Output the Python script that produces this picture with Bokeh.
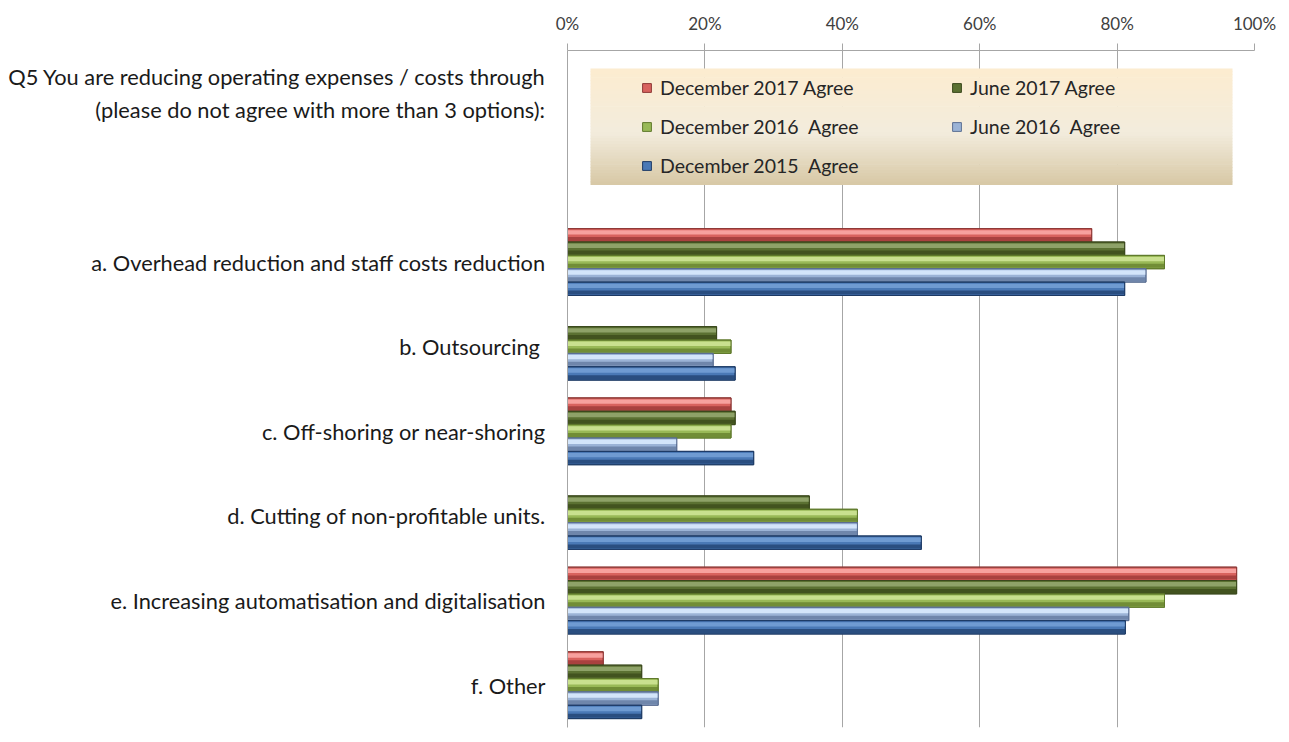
from bokeh.plotting import figure
from bokeh.models import (FactorRange, Range1d, Legend, LegendItem, BoxAnnotation,
                          FixedTicker, ColumnDataSource)
from bokeh.transform import dodge
from bokeh.embed import file_html
from bokeh.resources import INLINE

question = "Q5 You are reducing operating expenses / costs through\n(please do not agree with more than 3 options):"
categories = [
    "a. Overhead reduction and staff costs reduction",
    "b. Outsourcing ",
    "c. Off-shoring or near-shoring",
    "d. Cutting of non-profitable units.",
    "e. Increasing automatisation and digitalisation",
    "f. Other",
]
series_names = ["December 2017 Agree", "June 2017 Agree", "December 2016  Agree",
                "June 2016  Agree", "December 2015  Agree"]
dec_2017 = [76.3, None, 23.8, None, 97.4, 5.2]
jun_2017 = [81.1, 21.7, 24.4, 35.2, 97.4, 10.8]
dec_2016 = [86.9, 23.8, 23.8, 42.2, 86.9, 13.2]
jun_2016 = [84.2, 21.2, 15.9, 42.2, 81.7, 13.2]
dec_2015 = [81.1, 24.4, 27.1, 51.5, 81.2, 10.8]
series_values = [dec_2017, jun_2017, dec_2016, jun_2016, dec_2015]
x_ticks = [0, 20, 40, 60, 80, 100]
x_tick_labels = ["0%", "20%", "40%", "60%", "80%", "100%"]

# styles: base, highlight, shadow, outline
styles = [
    ("#d8625e", "#f7a19e", "#a9413f", "#8e3836"),
    ("#5b7132", "#8ea268", "#42531f", "#3a481c"),
    ("#99b957", "#c9e08f", "#718d36", "#5f792b"),
    ("#9bb3d6", "#d3e5fa", "#6f86ab", "#5b6f93"),
    ("#4a79b6", "#6f9bd2", "#2a4e80", "#1e3b66"),
]

FONT = "Lato"
y_factors = list(reversed(categories)) + [" ", question]

p = figure(width=1281, height=734, output_backend="svg", toolbar_location=None,
           x_range=Range1d(0, 100), y_range=FactorRange(*y_factors),
           x_axis_location="above",
           min_border_left=567, min_border_right=27, min_border_top=50, min_border_bottom=7)
p.y_range.range_padding = 0
p.y_range.factor_padding = 0
p.outline_line_color = None
p.background_fill_color = "white"
p.border_fill_color = "white"

# legend background gradient (decoration)
top_c = (253, 236, 208)
mid_c = (243, 237, 221)
bot_c = (216, 200, 166)
L, R, T, B = 590, 1232, 68, 184
n = 40
for k in range(n):
    f = (k + 0.5) / n
    if f < 0.55:
        g = f / 0.55
        c = tuple(int(top_c[j] + (mid_c[j] - top_c[j]) * g) for j in range(3))
    else:
        g = (f - 0.55) / 0.45
        c = tuple(int(mid_c[j] + (bot_c[j] - mid_c[j]) * g) for j in range(3))
    y0 = T + (B - T) * k / n
    y1 = T + (B - T) * (k + 1) / n + 0.6
    p.add_layout(BoxAnnotation(left=L, right=R, top=y0, bottom=y1,
                               left_units="canvas", right_units="canvas",
                               top_units="canvas", bottom_units="canvas",
                               fill_color="#%02x%02x%02x" % c, fill_alpha=1.0,
                               line_color=None, level="underlay"))

bh = 0.158
items = []
for i, (name, vals) in enumerate(zip(series_names, series_values)):
    base, hi, sh, ol = styles[i]
    off = (2 - i) * bh
    src = ColumnDataSource(dict(cat=categories,
                                val=[float("nan") if v is None else v for v in vals]))
    r = p.hbar(y=dodge("cat", off, range=p.y_range), right="val", left=0, height=bh,
               source=src, fill_color=base, line_color=ol, line_width=1)
    p.hbar(y=dodge("cat", off + bh * 0.22, range=p.y_range), right="val", left=0,
           height=bh * 0.32, source=src, fill_color=hi, line_color=None)
    p.hbar(y=dodge("cat", off - bh * 0.28, range=p.y_range), right="val", left=0,
           height=bh * 0.3, source=src, fill_color=sh, line_color=None)
    p.hbar(y=dodge("cat", off, range=p.y_range), right="val", left=0, height=bh,
           source=src, fill_color=None, line_color=ol, line_width=1)
    items.append(LegendItem(label=name, renderers=[r]))

legend = Legend(items=items, orientation="horizontal", ncols=2,
                location=(74, 550), padding=0, margin=0, spacing=16,
                glyph_width=11, glyph_height=11, label_standoff=8,
                label_width=275, label_height=23,
                label_text_font=FONT, label_text_font_size="19.5px",
                label_text_color="#262626",
                background_fill_alpha=0, border_line_color=None)
p.add_layout(legend)

p.xaxis.ticker = FixedTicker(ticks=x_ticks)
p.xaxis.major_label_overrides = {t: l for t, l in zip(x_ticks, x_tick_labels)}
p.xaxis.major_label_text_font = FONT
p.xaxis.major_label_text_font_size = "17px"
p.xaxis.major_label_text_color = "#404040"
p.xaxis.major_label_standoff = 10
p.xaxis.major_tick_out = 7
p.xaxis.major_tick_in = 0
p.xaxis.minor_tick_line_color = None
p.xaxis.axis_line_color = "#a6a6a6"
p.xaxis.major_tick_line_color = "#a6a6a6"

p.yaxis.major_label_text_font = FONT
p.yaxis.major_label_text_font_size = "21.8px"
p.yaxis.major_label_text_color = "#1a1a1a"
p.yaxis.major_label_standoff = 16
p.yaxis.major_tick_line_color = None
p.yaxis.axis_line_color = "#a6a6a6"

p.xgrid.ticker = FixedTicker(ticks=x_ticks)
p.xgrid.grid_line_color = "#a6a6a6"
p.ygrid.grid_line_color = None

open("out.html", "w").write(file_html(p, INLINE))
